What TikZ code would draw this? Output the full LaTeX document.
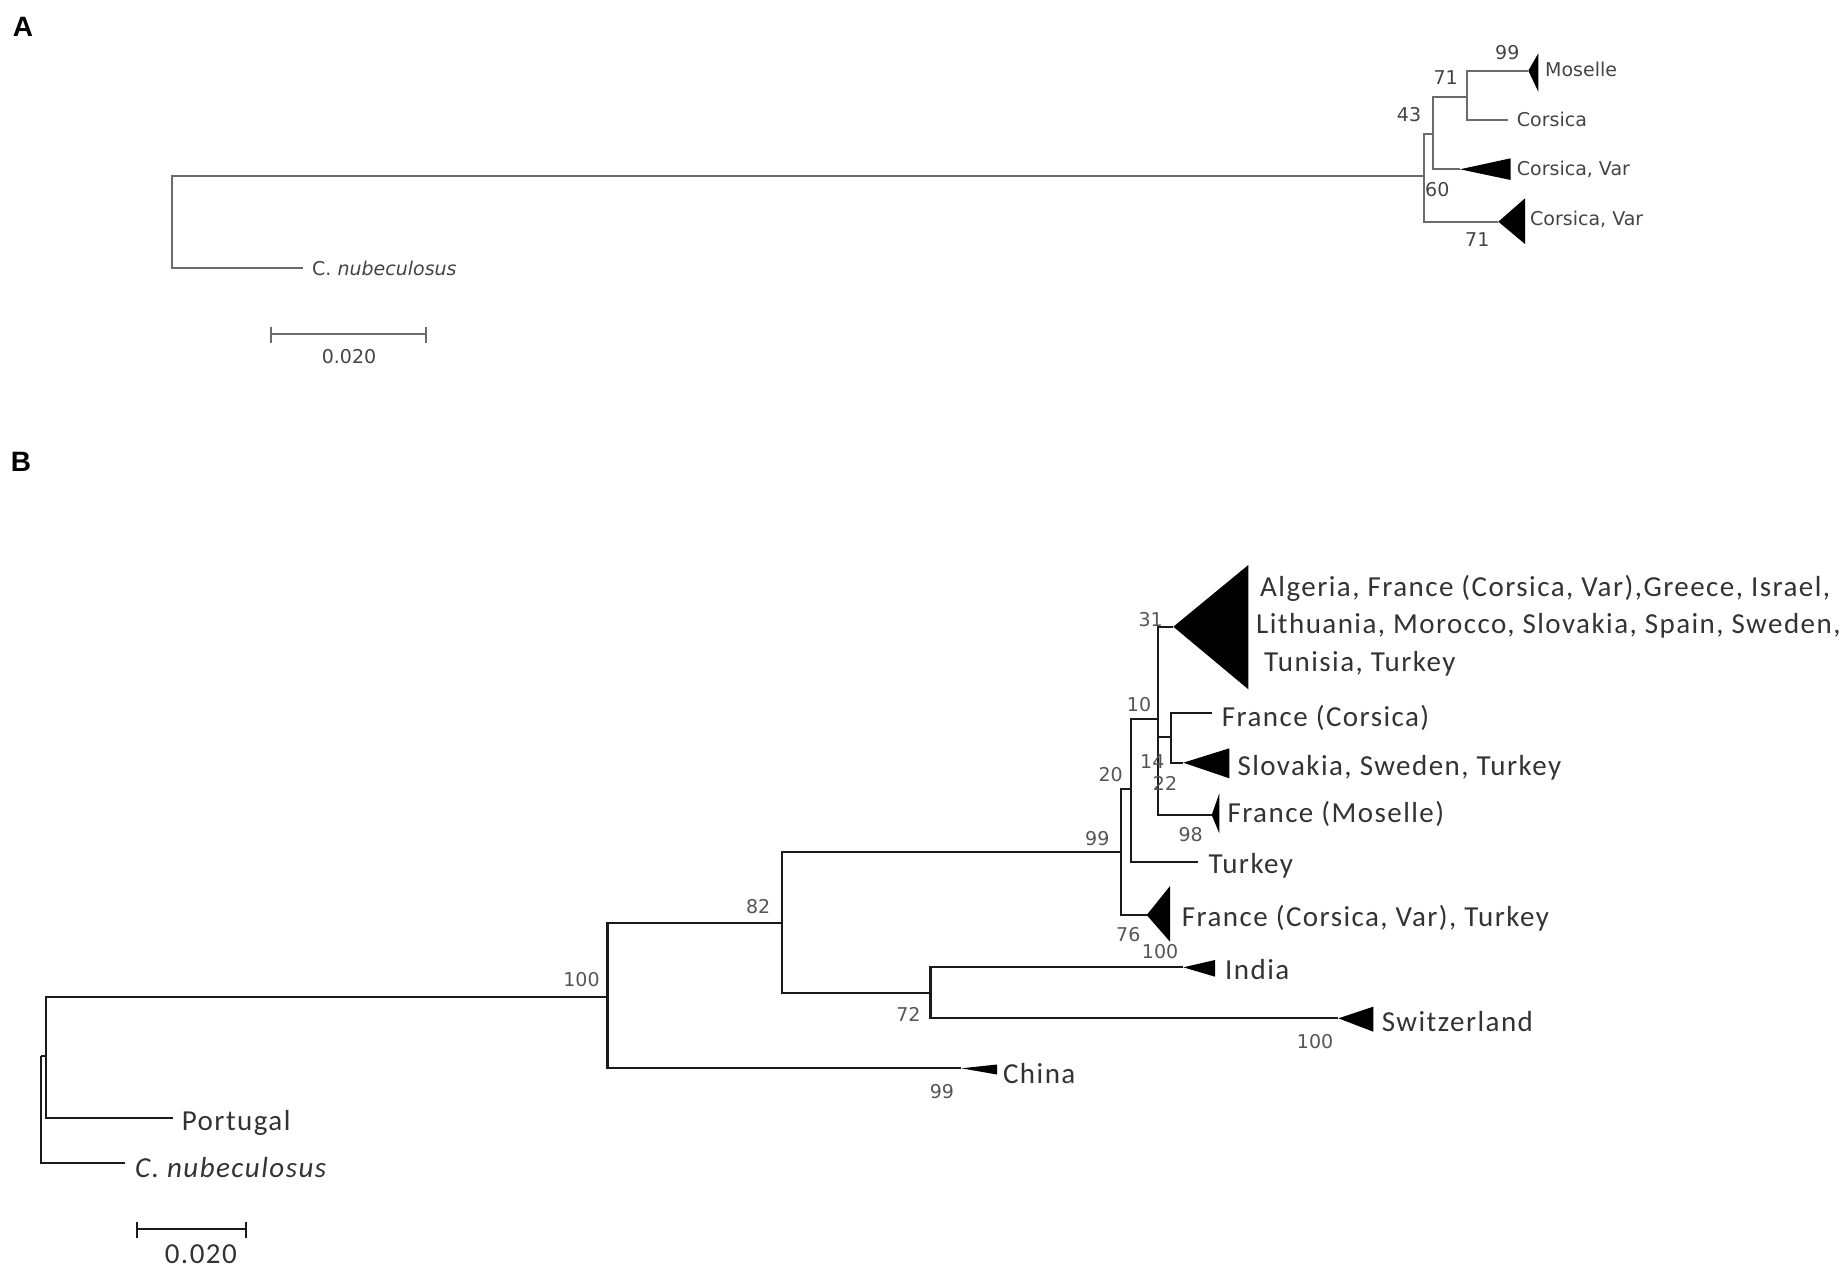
\documentclass[tikz,border=0pt]{standalone}
\usepackage{fontspec}
\setmainfont{DejaVu Sans}
\newfontfamily\afont{DejaVu Sans}
\newfontfamily\bfont[LetterSpace=5]{Carlito}
\newfontfamily\pfont{Liberation Sans}
\definecolor{lineA}{HTML}{6B6B6B}
\definecolor{textA}{HTML}{444444}
\definecolor{lineB}{HTML}{1A1A1A}
\definecolor{textB}{HTML}{333333}
\definecolor{numB}{HTML}{555555}
\tikzset{
  brA/.style={draw=lineA, line width=2pt},
  brB/.style={draw=lineB, line width=2.2pt},
  tri/.style={fill=black},
  labA/.style={anchor=base west, inner sep=0pt, text=textA, font=\afont\fontsize{19}{22}\selectfont},
  numA/.style={anchor=base west, inner sep=0pt, text=textA, font=\afont\fontsize{19}{22}\selectfont},
  labB/.style={anchor=base west, inner sep=0pt, text=textB, font=\bfont\fontsize{29}{37.5}\selectfont},
  numBs/.style={anchor=base west, inner sep=0pt, text=numB, font=\afont\fontsize{19}{22}\selectfont},
  panel/.style={anchor=base west, inner sep=0pt, text=black, font=\pfont\bfseries\fontsize{28}{30}\selectfont}
}
\begin{document}
\begin{tikzpicture}[x=1pt,y=-1pt]
\useasboundingbox (0,0) rectangle (1846,1271);
% ---------- Panel labels
\node[panel] (pA) at (12.7,36.7) {A};
\node[panel] (pB) at (10.7,471.7) {B};
% ---------- Panel A
\coordinate (rA) at (172,222);
\coordinate (cnA) at (303,268);
\coordinate (iA) at (1424,176);
\coordinate (n43) at (1433.3,134.3);
\coordinate (n71) at (1467.3,97.3);
\coordinate (cvA1) at (1460,169.3);
\coordinate (cvA2) at (1498.3,221.7);
\coordinate (mosA) at (1528.3,70.7);
\coordinate (corA) at (1508.3,120);
\draw[brA] (rA) |- (iA);
\draw[brA] (rA) |- (cnA);
\draw[brA] (iA) |- (n43);
\draw[brA] (iA) |- (cvA2);
\draw[brA] (n43) |- (n71);
\draw[brA] (n43) |- (cvA1);
\draw[brA] (n71) |- (mosA);
\draw[brA] (n71) |- (corA);
\fill[tri] (mosA) -- (1538.3,53.3) -- (1538.3,91.7) -- cycle;
\fill[tri] (cvA1) -- (1510.7,158.3) -- (1510.7,180) -- cycle;
\fill[tri] (cvA2) -- (1525,198.3) -- (1525,244) -- cycle;
\node[labA] (tMosA) at (1545,76.7) {Moselle};
\node[labA] (tCorA) at (1516.7,127) {Corsica};
\node[labA] (tCV1A) at (1516.7,175) {Corsica, Var};
\node[labA] (tCV2A) at (1530,225) {Corsica, Var};
\node[labA] (tCnA) at (312,275) {C. \textit{nubeculosus}};
\node[numA] (bA99) at (1495,60) {99};
\node[numA] (bA71a) at (1433.3,85) {71};
\node[numA] (bA43) at (1396.7,121.7) {43};
\node[numA] (bA60) at (1425,196.7) {60};
\node[numA] (bA71b) at (1465,246.7) {71};
\coordinate (sbA1) at (271,334);
\coordinate (sbA2) at (426,334);
\draw[brA] (sbA1) -- (sbA2);
\draw[brA] (271,327) -- (271,343);
\draw[brA] (426,327) -- (426,343);
\node[anchor=base, inner sep=0pt, text=textA, font=\afont\fontsize{19}{22}\selectfont] (sA) at (349,363.3) {0.020};
% ---------- Panel B
\coordinate (rB) at (40.7,1056);
\coordinate (nP) at (45.7,1056);
\coordinate (cnB) at (125,1162.7);
\coordinate (porB) at (173.3,1118.3);
\coordinate (n100) at (607.4,996.7);
\coordinate (chiB) at (961.3,1068.3);
\coordinate (n82) at (782.2,922.7);
\coordinate (n99) at (1120.7,852);
\coordinate (n72) at (930.5,993.3);
\coordinate (n20) at (1130.7,789.3);
\coordinate (fcvB) at (1146.7,915);
\coordinate (n10) at (1158.3,719.3);
\coordinate (turB) at (1198.3,861.7);
\coordinate (n31) at (1173.3,626.7);
\coordinate (n14) at (1170.7,737.3);
\coordinate (mosB) at (1211.7,815);
\coordinate (fcoB) at (1211.7,713.3);
\coordinate (sloB) at (1183.3,762.7);
\coordinate (indB) at (1183.3,967.3);
\coordinate (swiB) at (1338.3,1018.3);
\draw[brB] (rB) -- (nP);
\draw[brB] (rB) |- (cnB);
\draw[brB] (nP) |- (n100);
\draw[brB] (nP) |- (porB);
\draw[brB] (n100) |- (n82);
\draw[brB] (n100) |- (chiB);
\draw[brB] (n82) |- (n99);
\draw[brB] (n82) |- (n72);
\draw[brB] (n99) |- (n20);
\draw[brB] (n99) |- (fcvB);
\draw[brB] (n20) |- (n10);
\draw[brB] (n20) |- (turB);
\draw[brB] (n10) |- (n31);
\draw[brB] (n10) |- (n14);
\draw[brB] (n10) |- (mosB);
\draw[brB] (n14) |- (fcoB);
\draw[brB] (n14) |- (sloB);
\draw[brB] (n72) |- (indB);
\draw[brB] (n72) |- (swiB);
\fill[tri] (n31) -- (1248.3,565) -- (1248.3,689.3) -- cycle;
\fill[tri] (sloB) -- (1229.3,748.3) -- (1229.3,778.3) -- cycle;
\fill[tri] (mosB) -- (1219.3,793.3) -- (1219.3,833.3) -- cycle;
\fill[tri] (fcvB) -- (1170,886) -- (1170,941.7) -- cycle;
\fill[tri] (indB) -- (1215,960) -- (1215,976.7) -- cycle;
\fill[tri] (swiB) -- (1373.3,1006.7) -- (1373.3,1031.7) -- cycle;
\fill[tri] (chiB) -- (997,1064.5) -- (997,1074.5) -- cycle;
% tip labels
\node[labB, align=left, anchor=north west] (tBig) at (1256,575) {\hspace*{4pt}Algeria, France (Corsica, Var),Greece, Israel,\\Lithuania, Morocco, Slovakia, Spain, Sweden,\\\hspace*{8pt}Tunisia, Turkey};
\node[labB] (tFco) at (1221.7,726.7) {France (Corsica)};
\node[labB] (tSlo) at (1237.3,775) {Slovakia, Sweden, Turkey};
\node[labB] (tMos) at (1227.3,822.7) {France (Moselle)};
\node[labB] (tTur) at (1208.3,873) {Turkey};
\node[labB] (tFcv) at (1181.7,926) {France (Corsica, Var), Turkey};
\node[labB] (tInd) at (1225,979) {India};
\node[labB] (tSwi) at (1381.7,1031) {Switzerland};
\node[labB] (tChi) at (1002.9,1083) {China};
\node[labB] (tPor) at (181.7,1130.7) {Portugal};
\node[labB] (tCnB) at (135,1177) {\itshape C. nubeculosus};
% bootstrap values
\node[numBs] (b31) at (1138.3,626) {31};
\node[numBs] (b10) at (1126.7,711.7) {10};
\node[numBs] (b14) at (1140,768) {14};
\node[numBs] (b22) at (1152.7,790.7) {22};
\node[numBs] (b20) at (1098.3,781.7) {20};
\node[numBs] (b99a) at (1085,845) {99};
\node[numBs] (b98) at (1178.3,841.7) {98};
\node[numBs] (b76) at (1116,941.7) {76};
\node[numBs] (b100a) at (1141.7,958.3) {100};
\node[numBs] (b82) at (745.8,913.3) {82};
\node[numBs] (b100b) at (563.2,986.7) {100};
\node[numBs] (b72) at (896.1,1021.7) {72};
\node[numBs] (b99b) at (929.7,1098.3) {99};
\node[numBs] (b100c) at (1296.7,1048.3) {100};
% scale bar B
\coordinate (sbB1) at (137.3,1229.3);
\coordinate (sbB2) at (245.7,1229.3);
\draw[brB] (sbB1) -- (sbB2);
\draw[brB] (137.3,1222) -- (137.3,1238.3);
\draw[brB] (245.7,1222) -- (245.7,1238.3);
\node[anchor=base, inner sep=0pt, text=textB, font=\bfont\fontsize{29}{34}\selectfont] (sB) at (200.8,1263.3) {0.020};
\end{tikzpicture}
\end{document}
